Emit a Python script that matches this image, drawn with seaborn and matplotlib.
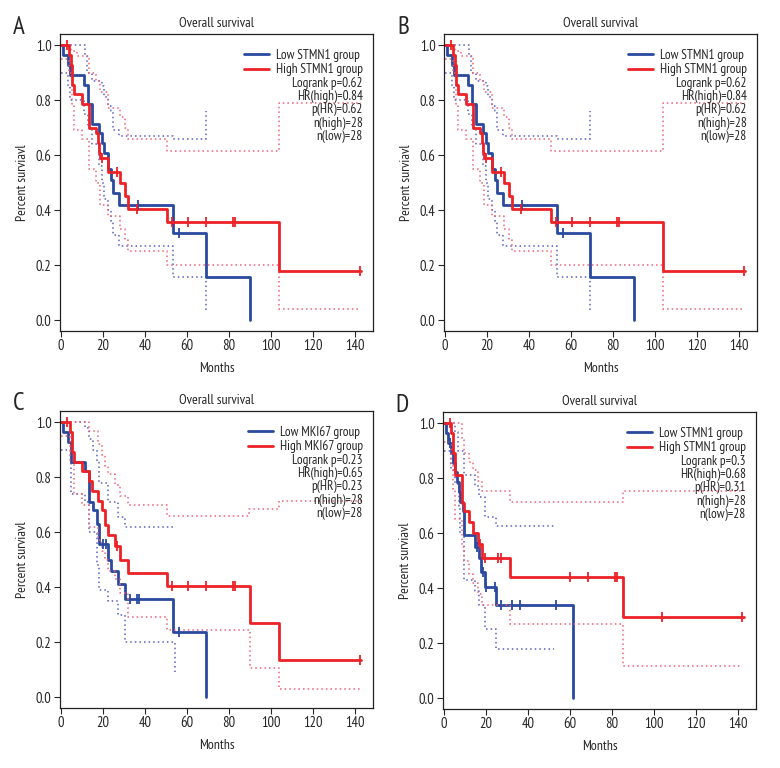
import numpy as np
import matplotlib
matplotlib.use("Agg")
import matplotlib.pyplot as plt
import seaborn as sns

# ---- STMN1 set (panels A and B show the same curves) ----
stmn_low_t = [0, 1, 3.5, 4.5, 11, 13, 14.7, 18.2, 19.5, 20.7, 22.6, 24, 25, 27.7, 53.5, 68.9, 90]
stmn_low_s = [1.0, 0.964, 0.929, 0.893, 0.857, 0.786, 0.714, 0.679, 0.643, 0.607, 0.55, 0.51, 0.464, 0.42, 0.315, 0.158, 0.0]
stmn_low_cens = [36.6, 56.2]
stmn_high_t = [0, 4, 4.7, 5.3, 6.3, 10, 13.3, 17, 17.6, 18.2, 18.8, 22.5, 28.2, 30.7, 31.9, 50.4, 103.7, 143]
stmn_high_s = [1.0, 0.964, 0.929, 0.857, 0.821, 0.786, 0.70, 0.679, 0.643, 0.607, 0.59, 0.54, 0.50, 0.45, 0.405, 0.355, 0.178, 0.178]
stmn_high_cens = [3, 19.5, 26.9, 36.1, 53, 60.7, 68.9, 82, 82.8, 142.5]
stmn_low_up_t = [0, 11.6, 12.7, 14.7, 19.5, 20.7, 22.6, 24, 25, 27.7, 53.5, 68.9]
stmn_low_up_s = [1.0, 0.96, 0.90, 0.87, 0.85, 0.81, 0.78, 0.76, 0.69, 0.67, 0.66, 0.76]
stmn_low_lo_t = [0, 3.5, 4.5, 11, 13, 14.7, 18.2, 19.5, 20.7, 22.6, 24, 25, 27.7, 53.5, 68.9]
stmn_low_lo_s = [0.90, 0.85, 0.80, 0.75, 0.70, 0.64, 0.56, 0.50, 0.44, 0.40, 0.36, 0.31, 0.27, 0.155, 0.03]
stmn_high_up_t = [0, 4.7, 7.6, 13.3, 17, 18.8, 22.5, 28.2, 30.7, 31.9, 50.4, 103.7, 143]
stmn_high_up_s = [1.0, 0.98, 0.96, 0.90, 0.87, 0.83, 0.77, 0.74, 0.70, 0.66, 0.615, 0.79, 0.79]
stmn_high_lo_t = [0, 4, 5.3, 6.3, 10, 13.3, 17, 18.8, 22.5, 28.2, 30.7, 31.9, 50.4, 103.7, 143]
stmn_high_lo_s = [0.95, 0.90, 0.78, 0.69, 0.66, 0.55, 0.50, 0.42, 0.38, 0.33, 0.29, 0.25, 0.20, 0.04, 0.04]
stmn_stats = ["Logrank p=0.62", "HR(high)=0.84", "p(HR)=0.62", "n(high)=28", "n(low)=28"]

# ---- MKI67 set (panel C) ----
mki_low_t = [0, 1, 3.6, 4.8, 11.4, 13.4, 15.2, 17.1, 18.4, 22.6, 23.8, 27.4, 30.8, 53.5, 68.9]
mki_low_s = [1.0, 0.964, 0.929, 0.857, 0.821, 0.71, 0.679, 0.63, 0.556, 0.5, 0.46, 0.41, 0.355, 0.237, 0.0]
mki_low_cens = [20.1, 21.5, 33.2, 36.4, 37.1, 56.2]
mki_high_t = [0, 4.4, 5.2, 6.3, 10, 13.6, 14.7, 17.9, 19.5, 21.1, 22.6, 25.8, 28.2, 32.2, 50.4, 90, 103.7, 143]
mki_high_s = [1.0, 0.964, 0.893, 0.857, 0.821, 0.786, 0.75, 0.714, 0.679, 0.625, 0.59, 0.55, 0.5, 0.45, 0.405, 0.27, 0.135, 0.135]
mki_high_cens = [3, 26.6, 53, 60.7, 68.9, 82, 82.8, 142.5]
mki_low_up_t = [0, 11.4, 13.4, 15.2, 17.1, 18.4, 22.6, 27.4, 30.8, 54.3]
mki_low_up_s = [1.0, 0.98, 0.94, 0.90, 0.86, 0.78, 0.71, 0.655, 0.62, 0.62]
mki_low_lo_t = [0, 4.8, 11.4, 13.4, 17.1, 18.4, 22.6, 27.4, 30.8, 54.3]
mki_low_lo_s = [0.9, 0.74, 0.71, 0.6, 0.48, 0.39, 0.35, 0.30, 0.2, 0.09]
mki_high_up_t = [0, 13.6, 17.9, 19.5, 21.1, 22.6, 25.8, 28.2, 32.2, 50.4, 89.5, 103.7, 143]
mki_high_up_s = [1.0, 0.97, 0.92, 0.88, 0.84, 0.81, 0.77, 0.73, 0.70, 0.66, 0.685, 0.715, 0.715]
mki_high_lo_t = [0, 4.4, 6.3, 10, 13.6, 17.9, 19.5, 21.1, 22.6, 25.8, 28.2, 32.2, 50.4, 90, 103.7, 143]
mki_high_lo_s = [0.95, 0.86, 0.74, 0.70, 0.62, 0.57, 0.53, 0.50, 0.46, 0.43, 0.38, 0.29, 0.245, 0.105, 0.03, 0.03]
mki_stats = ["Logrank p=0.23", "HR(high)=0.65", "p(HR)=0.23", "n(high)=28", "n(low)=28"]

# ---- STMN1 second cohort (panel D) ----
d_low_t = [0, 1, 2, 3.6, 4.4, 5.4, 6.2, 7.2, 8, 9, 9.6, 14.7, 16.8, 17.8, 19.5, 25, 61.6]
d_low_s = [1.0, 0.964, 0.929, 0.893, 0.857, 0.821, 0.786, 0.75, 0.714, 0.679, 0.595, 0.55, 0.51, 0.46, 0.405, 0.34, 0.0]
d_low_cens = [2.8, 16, 18.5, 20.3, 24.4, 27.4, 32.4, 36.5, 53.5]
d_high_t = [0, 3.3, 4.4, 5.5, 8.5, 9.5, 12, 14, 16.3, 18.3, 31.6, 85.2, 143]
d_high_s = [1.0, 0.964, 0.893, 0.81, 0.71, 0.68, 0.64, 0.6, 0.56, 0.51, 0.44, 0.295, 0.295]
d_high_cens = [2.8, 17.5, 19.8, 25.8, 27.4, 60.3, 68.5, 81.6, 82.4, 103.6, 142]
d_low_up_t = [0, 5.2, 6.8, 9.6, 14.7, 16.8, 19.5, 25, 52.7]
d_low_up_s = [1.0, 0.97, 0.9, 0.81, 0.77, 0.73, 0.66, 0.625, 0.625]
d_low_lo_t = [0, 3.6, 5.4, 7.2, 8, 9.6, 14.7, 16.8, 19.5, 25, 52.7]
d_low_lo_s = [0.9, 0.83, 0.78, 0.7, 0.6, 0.43, 0.39, 0.34, 0.25, 0.18, 0.18]
d_high_up_t = [0, 8.5, 9.5, 12, 14, 16.3, 18.3, 31.6, 85.2, 142]
d_high_up_s = [1.0, 0.94, 0.89, 0.86, 0.83, 0.79, 0.755, 0.715, 0.755, 0.755]
d_high_lo_t = [0, 3.3, 4.4, 5.5, 8.5, 9.5, 12, 14, 16.3, 18.3, 31.6, 85.2, 142]
d_high_lo_s = [0.93, 0.85, 0.76, 0.65, 0.55, 0.5, 0.45, 0.42, 0.38, 0.34, 0.27, 0.115, 0.115]
d_stats = ["Logrank p=0.3", "HR(high)=0.68", "p(HR)=0.31", "n(high)=28", "n(low)=28"]

BLUE = "#2a4aa0"
RED = "#ec2227"
BLUE_CI = "#5a5ec8"
RED_CI = "#f0607a"

sns.set_style("ticks")
plt.rcParams["font.family"] = ["PT Sans Narrow", "DejaVu Sans"]


def step_value(t, s, c):
    idx = np.searchsorted(np.asarray(t), c, side="right") - 1
    return np.asarray(s)[idx]


def draw_group(ax, t, s, cens, up_t, up_s, lo_t, lo_s, color, ci_color, label):
    # confidence band edges as dotted step lines
    for ct, cs in [(up_t, up_s), (lo_t, lo_s)]:
        sns.lineplot(x=ct, y=cs, ax=ax, drawstyle="steps-post", color=ci_color,
                     lw=1.1, linestyle=(0, (1, 2)), estimator=None, sort=False)
    sns.lineplot(x=t, y=s, ax=ax, drawstyle="steps-post", color=color, lw=2.0,
                 estimator=None, sort=False, label=label)
    # censored patients
    sns.scatterplot(x=cens, y=step_value(t, s, cens), ax=ax, marker="|", s=45,
                    color=color, linewidth=1.3, zorder=5)


def panel(rect, letter, gene, low, high, stats):
    ax = fig.add_axes(rect)
    draw_group(ax, *low, BLUE, BLUE_CI, f"Low {gene} group")
    draw_group(ax, *high, RED, RED_CI, f"High {gene} group")
    ax.set_xlim(-0.3, 148.5)
    ax.set_ylim(-0.04, 1.041)
    ax.set_xticks(np.arange(0, 141, 20))
    ax.set_yticks(np.arange(0, 1.01, 0.2))
    ax.set_yticklabels([f"{v:.1f}" for v in np.arange(0, 1.01, 0.2)])
    ax.tick_params(direction="out", length=4, width=0.8, labelsize=10.5, pad=2)
    for sp in ax.spines.values():
        sp.set_visible(True)
        sp.set_linewidth(0.9)
        sp.set_color("#222222")
    ax.set_title("Overall survival", fontsize=10, pad=5)
    ax.set_xlabel("Months", fontsize=10, labelpad=6.5)
    ax.set_ylabel("Percent surviavl", fontsize=10, labelpad=5)
    ax.legend(loc="upper right", bbox_to_anchor=(0.967, 0.95), frameon=False,
              fontsize=9.5, handlelength=1.9, handletextpad=0.5, labelspacing=0.1,
              borderpad=0, borderaxespad=0)
    for i, txt in enumerate(stats):
        ax.text(0.967, 0.834 - i * 0.0448, txt, transform=ax.transAxes,
                ha="right", va="center", fontsize=9.5)
    fig.text(rect[0] - 41 / 780, rect[1] + rect[3] + 7 / 768, letter,
             fontsize=18, ha="center", va="center")
    return ax


fig = plt.figure(figsize=(7.8, 7.68), dpi=100)

stmn_low = (stmn_low_t, stmn_low_s, stmn_low_cens, stmn_low_up_t, stmn_low_up_s, stmn_low_lo_t, stmn_low_lo_s)
stmn_high = (stmn_high_t, stmn_high_s, stmn_high_cens, stmn_high_up_t, stmn_high_up_s, stmn_high_lo_t, stmn_high_lo_s)
mki_low = (mki_low_t, mki_low_s, mki_low_cens, mki_low_up_t, mki_low_up_s, mki_low_lo_t, mki_low_lo_s)
mki_high = (mki_high_t, mki_high_s, mki_high_cens, mki_high_up_t, mki_high_up_s, mki_high_lo_t, mki_high_lo_s)
d_low = (d_low_t, d_low_s, d_low_cens, d_low_up_t, d_low_up_s, d_low_lo_t, d_low_lo_s)
d_high = (d_high_t, d_high_s, d_high_cens, d_high_up_t, d_high_up_s, d_high_lo_t, d_high_lo_s)

W, H = 780, 768
panel([60 / W, (H - 331) / H, 313 / W, 297 / H], "A", "STMN1", stmn_low, stmn_high, stmn_stats)
panel([444 / W, (H - 331) / H, 313 / W, 297 / H], "B", "STMN1", stmn_low, stmn_high, stmn_stats)
panel([60 / W, (H - 708) / H, 313 / W, 297 / H], "C", "MKI67", mki_low, mki_high, mki_stats)
panel([443 / W, (H - 709) / H, 313 / W, 297 / H], "D", "STMN1", d_low, d_high, d_stats)

fig.savefig("out.png", dpi=100, facecolor="white")
